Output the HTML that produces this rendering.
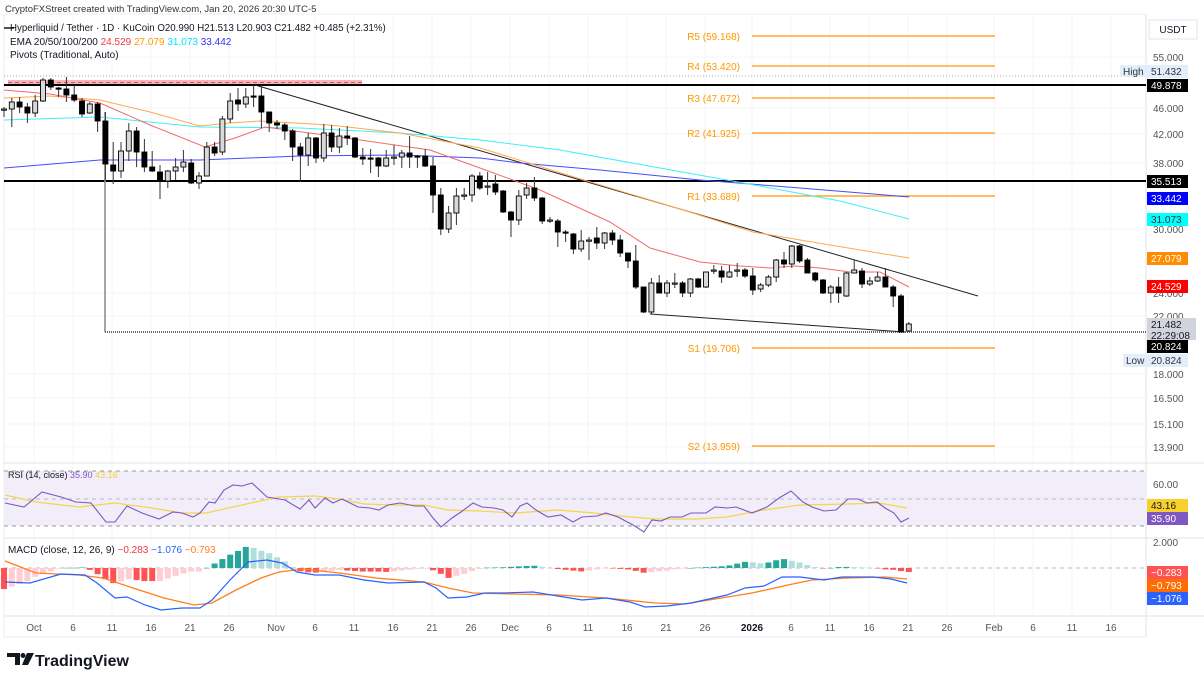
<!DOCTYPE html>
<html><head><meta charset="utf-8"><style>
body{margin:0;background:#fff;width:1204px;height:679px;overflow:hidden;font-family:"Liberation Sans",sans-serif}
svg{position:absolute;left:0;top:0}
</style></head><body>
<svg id="s" width="1204" height="679" xmlns="http://www.w3.org/2000/svg" font-family="Liberation Sans, sans-serif"></svg>
<script>
const S=document.getElementById('s');let h='';
const C=[[109,107,117,109],[109,98,127,102],[102,97,113,107],[107,103,123,113],[113,95,117,101],[101,78,102,80],[80,78,90,87],[88,87,97,89],[89,77,102,95],[95,85,102,100],[101,98,117,114],[113,102,114,104],[104,102,132,121],[121,112,180,164],[165,142,184,171],[171,142,178,151],[151,123,161,131],[131,127,167,152],[152,139,172,167],[167,151,172,171],[172,165,199,181],[181,170,188,171],[171,158,180,167],[167,150,172,162],[163,159,184,183],[183,172,189,176],[176,142,176,147],[147,142,156,153],[152,116,155,119],[119,93,123,101],[100,88,111,104],[104,88,108,97],[96,85,107,97],[96,85,128,112],[112,112,132,123],[123,120,129,125],[125,123,140,131],[131,129,161,147],[147,143,182,155],[155,133,166,138],[138,137,163,158],[158,124,162,133],[133,125,152,147],[147,128,153,136],[136,126,145,138],[138,137,158,157],[157,148,165,159],[158,149,173,159],[158,157,177,166],[166,150,167,158],[157,145,165,157],[157,150,168,153],[153,136,168,157],[156,155,168,157],[156,149,167,166],[166,157,213,195],[195,188,235,229],[229,206,233,213],[213,188,225,196],[196,188,200,195],[195,174,202,176],[176,172,190,188],[186,172,195,186],[184,175,195,192],[191,190,213,212],[212,211,237,220],[220,190,225,196],[195,183,199,188],[188,177,201,198],[198,197,224,221],[220,217,223,220],[221,219,247,232],[232,230,242,233],[234,233,254,249],[249,230,252,241],[240,237,260,240],[238,227,249,243],[243,232,249,233],[233,230,245,240],[240,235,257,253],[253,253,268,261],[261,245,289,287],[287,287,313,312],[312,278,314,283],[283,275,293,293],[293,280,297,283],[283,273,288,283],[283,281,297,293],[293,278,297,279],[279,278,288,287],[287,272,288,272],[271,265,274,270],[271,266,283,277],[277,265,278,272],[271,263,277,270],[270,268,278,276],[276,268,295,290],[289,283,292,285],[285,275,287,277],[277,259,282,260],[260,252,268,264],[264,245,268,246],[246,245,263,261],[260,258,273,273],[273,272,282,280],[280,279,294,293],[293,285,303,287],[287,277,303,293],[296,272,297,273],[273,260,273,270],[271,268,288,284],[284,277,286,281],[281,272,282,277],[277,268,287,287],[287,285,307,296],[296,294,332,332],[331,322,332,324]];
const X=i=>4+i*7.8;
function line(x1,y1,x2,y2,c,w,d){h+=`<line x1="${x1}" y1="${y1}" x2="${x2}" y2="${y2}" stroke="${c}" stroke-width="${w||1}"${d?` stroke-dasharray="${d}"`:''}/>`}
function txt(x,y,t,c,sz,a,w){h+=`<text x="${x}" y="${y}" fill="${c}" font-size="${sz||11}"${a?` text-anchor="${a}"`:''}${w?` font-weight="${w}"`:''}>${t}</text>`}
function pl(p,c,w){h+=`<polyline fill="none" stroke="${c}" stroke-width="${w||1}" points="${p.map(q=>q.join(',')).join(' ')}"/>`}
function rect(x,y,w,hh,f,st){h+=`<rect x="${x}" y="${y}" width="${w}" height="${hh}" fill="${f}"${st?` stroke="${st}"`:''}/>`}
rect(4,14,1142,623,'none','#eceef2');line(1146,14,1146,637,'#e0e3eb');
[57,108,134,163,229,293,316,374,398,424,447].forEach(y=>line(4,y,1146,y,'#f3f4f6'));
const T=[[34,'Oct'],[73,'6'],[112,'11'],[151,'16'],[190,'21'],[229,'26'],[276,'Nov'],[315,'6'],[354,'11'],[393,'16'],[432,'21'],[471,'26'],[510,'Dec'],[549,'6'],[588,'11'],[627,'16'],[666,'21'],[705,'26'],[752,'2026'],[791,'6'],[830,'11'],[869,'16'],[908,'21'],[947,'26'],[994,'Feb'],[1033,'6'],[1072,'11'],[1111,'16']];
T.forEach(t=>line(t[0],14,t[0],616,'#f5f6f8'));
line(4,463,1204,463,'#e0e3eb');line(4,538,1204,538,'#e0e3eb');line(4,616,1204,616,'#e0e3eb');
txt(5,12,'CryptoFXStreet created with TradingView.com, Jan 20, 2026 20:30 UTC-5','#333',9.5);
txt(10,31,'Hyperliquid / Tether · 1D · KuCoin  O20.990  H21.513  L20.903  C21.482  +0.485 (+2.31%)','#131722',9.7);
line(4,28,14,28,'#131722',1.5);
h+=`<text x="10" y="45" font-size="10" fill="#131722">EMA 20/50/100/200 <tspan fill="#f23645">24.529</tspan> <tspan fill="#ff9800">27.079</tspan> <tspan fill="#00e5ff">31.073</tspan> <tspan fill="#3030ff">33.442</tspan></text>`;
txt(10,58,'Pivots (Traditional, Auto)','#131722',10);
line(4,76,1140,76,'#aaa',1,'1 2');
rect(8,80,354,5,'#f7b6bb');line(8,82.5,362,82.5,'#c55',1,'4 3');
line(4,85,1146,85,'#000',2);line(4,181,1146,181,'#000',2);
line(105,112,105,332,'#888',1.5);line(105,332,1146,332,'#666',2,'1 1');
line(255,85,978,296,'#222',1);line(650,314,905,332,'#222',1);
[[36,'R5 (59.168)'],[66,'R4 (53.420)'],[98,'R3 (47.672)'],[133,'R2 (41.925)'],[196,'R1 (33.689)'],[348,'S1 (19.706)'],[446,'S2 (13.959)']].forEach(p=>{line(752,p[0],995,p[0],'#ff9800',1.3);txt(740,p[0]+4,p[1],'#ff9800',10,'end')});
pl([[4,168],[100,160],[200,160],[300,156],[400,155],[480,158],[520,163],[600,170],[700,180],[800,188],[909,197]],'#4a4aff');
pl([[4,120],[100,117],[200,127],[300,128],[400,133],[480,140],[560,150],[660,168],[760,186],[840,201],[909,219]],'#3ef0f8');
pl([[4,98],[50,96],[100,100],[150,112],[200,126],[230,123],[260,121],[330,125],[400,133],[480,148],[587,181],[680,209],[753,232],[830,245],[909,258]],'#ffa94d');
pl([[4,90],[50,94],[100,103],[150,125],[205,147],[235,138],[265,127],[310,133],[360,140],[430,150],[480,168],[540,190],[610,222],[650,248],[700,262],[740,266],[770,268],[795,266],[820,268],[850,272],[880,272],[909,287]],'#f26b6b');
C.forEach((c,i)=>{const x=X(i),[o,hi,lo,cl]=c,bull=cl<=o;line(x,hi,x,lo,'#333',1);const t=Math.min(o,cl),b=Math.max(o,cl);h+=`<rect x="${x-2.5}" y="${t}" width="5" height="${Math.max(b-t,1.2)}" fill="${bull?'#d9d9dc':'#000'}" stroke="#000" stroke-width="0.9"/>`});
rect(4,471,1142,55,'#f1eef9');
line(4,471,1146,471,'#999',1,'4 4');line(4,499,1146,499,'#bbb',1,'4 4');line(4,526,1146,526,'#999',1,'4 4');
h+=`<text x="8" y="478" font-size="9" fill="#131722">RSI (14, close) <tspan fill="#7e57c2">35.90</tspan> <tspan fill="#f4d03f">43.16</tspan></text>`;
pl([[5,495],[36,502],[79,507],[115,503],[152,508],[182,513],[206,513],[242,505],[279,497],[315,496],[339,499],[364,504],[394,505],[424,505],[448,510],[479,511],[515,513],[558,510],[594,513],[630,517],[655,519],[697,519],[727,517],[764,510],[800,505],[848,504],[879,503],[907,508]],'#f7d44c',1.2);
pl([[5,503],[24,507],[42,492],[61,497],[76,502],[91,503],[106,522],[115,522],[127,506],[142,513],[159,519],[173,512],[182,513],[193,517],[200,513],[209,502],[215,503],[224,490],[233,485],[242,486],[252,483],[267,497],[285,500],[300,509],[309,500],[315,508],[325,498],[333,503],[342,499],[358,507],[370,508],[379,510],[388,505],[400,503],[415,506],[424,506],[433,518],[441,527],[452,518],[461,512],[473,503],[482,507],[494,508],[503,510],[512,517],[520,506],[527,503],[536,510],[548,517],[561,515],[573,522],[582,517],[597,516],[606,513],[618,517],[633,525],[644,532],[652,520],[661,521],[670,517],[682,517],[691,513],[706,513],[715,507],[727,508],[736,507],[752,513],[767,507],[779,498],[791,491],[803,502],[812,507],[824,511],[836,510],[848,499],[858,499],[867,503],[877,502],[885,508],[894,513],[901,522],[909,518]],'#7e57c2',1.1);
const M=[[5,582],[30,583],[61,574],[85,575],[97,583],[115,598],[127,597],[145,605],[161,610],[182,608],[200,608],[212,600],[230,580],[248,562],[267,560],[282,563],[297,572],[315,575],[339,575],[364,580],[388,583],[424,582],[436,588],[448,598],[467,597],[485,593],[503,593],[533,592],[564,597],[582,600],[606,598],[630,602],[645,607],[667,606],[691,603],[727,595],[745,588],[764,586],[782,577],[800,577],[824,580],[842,577],[873,577],[891,579],[907,583]];
const G=[[5,561],[36,573],[79,575],[103,578],[133,588],[164,598],[194,605],[212,603],[236,590],[261,578],[279,572],[303,569],[339,573],[376,578],[424,582],[448,588],[473,593],[515,594],[558,595],[606,598],[655,603],[685,604],[715,599],[752,593],[788,585],[812,580],[848,578],[885,577],[907,579]];
function itp(a,x){for(let i=0;i<a.length-1;i++){if(x>=a[i][0]&&x<=a[i+1][0]){const t=(x-a[i][0])/(a[i+1][0]-a[i][0]);return a[i][1]+t*(a[i+1][1]-a[i][1])}}return x<a[0][0]?a[0][1]:a[a.length-1][1]}
line(4,568,1146,568,'#bbb',1,'4 4');
let prev=0;C.forEach((c,i)=>{const x=X(i);let v=(itp(G,x)-itp(M,x))*1.0;let col=v>=0?(v>=prev?'#26a69a':'#b2dfdb'):(v<=prev?'#ff5252':'#ffcdd2');prev=v;rect(x-3,v>=0?568-v:568,6,Math.max(Math.abs(v),0.5),col)});
pl(G,'#ff7f1e',1.3);pl(M,'#2962ff',1.2);
h+=`<text x="8" y="553" font-size="10" fill="#131722">MACD (close, 12, 26, 9) <tspan fill="#f23645">−0.283</tspan> <tspan fill="#2962ff">−1.076</tspan> <tspan fill="#ff7f1e">−0.793</tspan></text>`;
T.forEach(t=>txt(t[0],631,t[1],t[1]=='2026'?'#131722':'#555',10,'middle',t[1]=='2026'?'bold':null));
rect(1149,20,48,19,'#fff','#e0e3eb');txt(1173,33,'USDT','#131722',10,'middle');
[[57,'55.000'],[108,'46.000'],[134,'42.000'],[163,'38.000'],[229,'30.000'],[293,'24.000'],[316,'22.000'],[374,'18.000'],[398,'16.500'],[424,'15.100'],[447,'13.900'],[484,'60.00'],[542,'2.000']].forEach(t=>txt(1153,t[0]+4,t[1],'#555',10));
function lab(y,t,bg,fg){rect(1147,y-6,41,13,bg);txt(1151,y+4,t,fg,10)}
rect(1120,65,27,12,'#e3eefc');txt(1123,75,'High','#333',10);lab(71,'51.432','#e3eefc','#333');
lab(85,'49.878','#000','#fff');lab(181,'35.513','#000','#fff');lab(198,'33.442','#0000ff','#fff');lab(219,'31.073','#00ffff','#333');lab(258,'27.079','#ff8c00','#fff');lab(286,'24.529','#ff0000','#fff');
rect(1147,318,49,22,'#d1d4dc');txt(1151,328,'21.482','#131722',10);txt(1151,339,'22:29:08','#131722',10);
lab(346,'20.824','#000','#fff');rect(1123,354,24,13,'#e3eefc');txt(1126,364,'Low','#333',10);lab(360,'20.824','#e3eefc','#333');
lab(505,'43.16','#f7d02c','#131722');lab(518,'35.90','#7e57c2','#fff');
lab(572,'−0.283','#ff5252','#fff');lab(585,'−0.793','#ff6d00','#fff');lab(598,'−1.076','#2962ff','#fff');
h+=`<path d="M7 653h13v12h-5v-8H7z" fill="#131722"/><circle cx="23" cy="655.5" r="2.5" fill="#131722"/><path d="M27 653h7l-6 12h-6z" fill="#131722"/>`;
txt(35,666,'TradingView','#131722',16,null,'bold');
S.innerHTML=h;
</script>
</body></html>
